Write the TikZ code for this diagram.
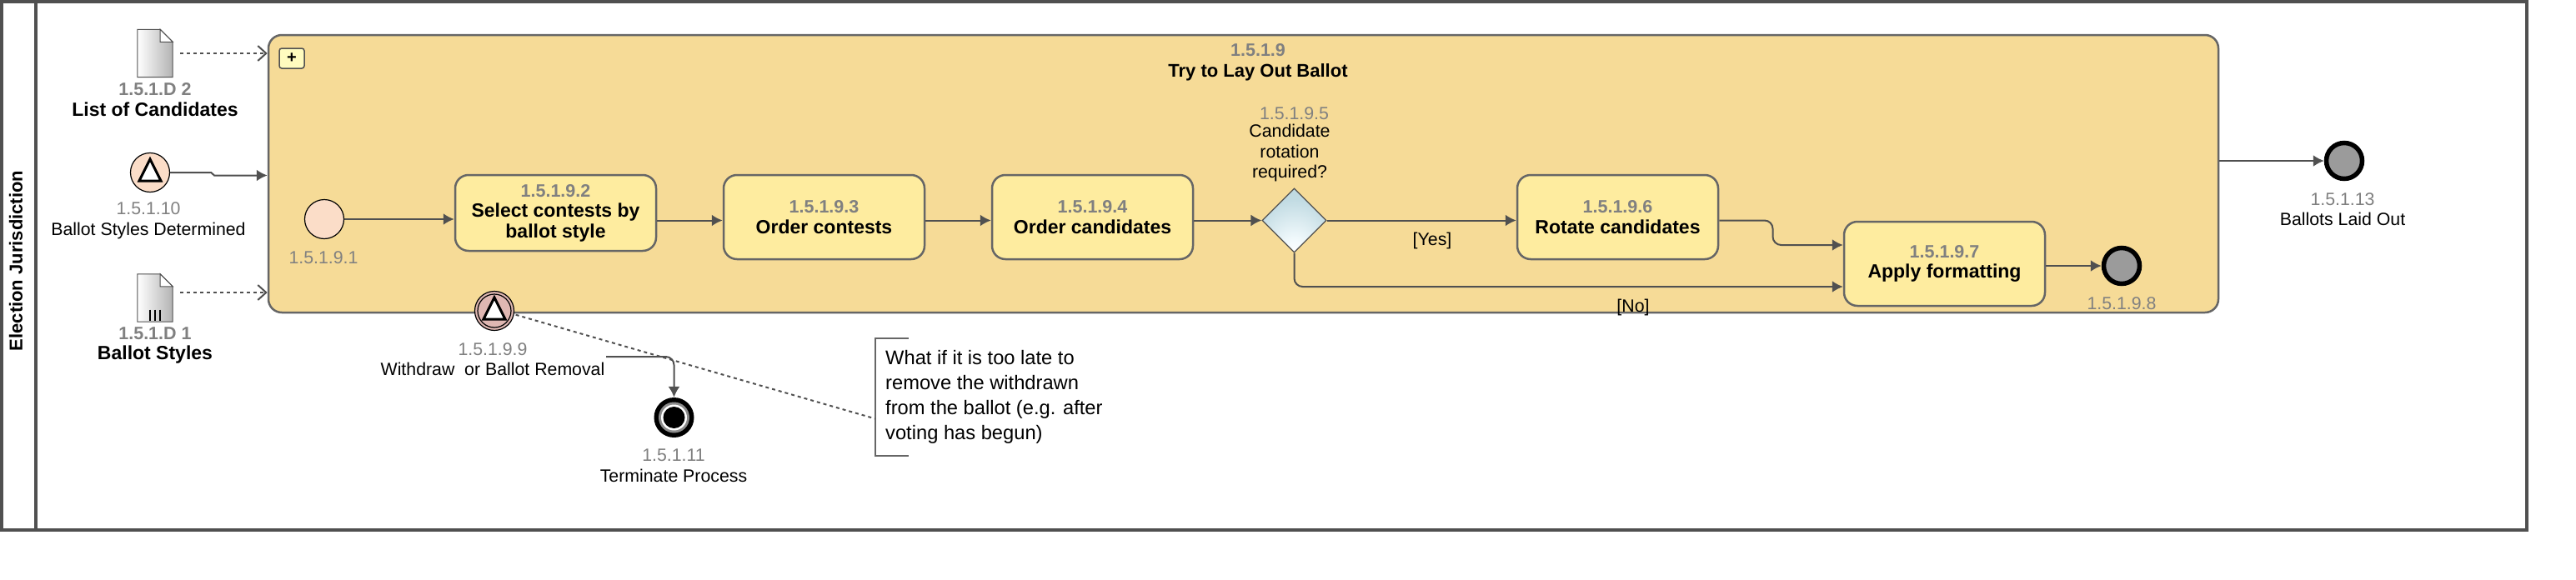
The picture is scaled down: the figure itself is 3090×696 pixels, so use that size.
\documentclass[tikz,border=0pt]{standalone}
\usepackage{fontspec}
\setmainfont{Liberation Sans}
\usetikzlibrary{arrows.meta,shapes.geometric}

\definecolor{idgray}{HTML}{808080}
\definecolor{linegray}{HTML}{505050}
\definecolor{edgegray}{HTML}{666666}
\definecolor{subfill}{HTML}{F6DB97}
\definecolor{taskfill}{HTML}{FEEC9F}
\definecolor{startfill}{HTML}{FBDDC8}
\definecolor{boundfill}{HTML}{DFB7B2}
\definecolor{endfill}{HTML}{9B9B9B}
\pgfdeclareradialshading{gwshade}{\pgfpoint{0bp}{-27bp}}{rgb(0bp)=(1,1,1);rgb(8bp)=(0.95,0.98,0.99);rgb(30bp)=(0.76,0.86,0.89);rgb(60bp)=(0.70,0.82,0.86)}
\newcommand{\idnum}[1]{{\color{idgray}\fontsize{21.5}{24.5}\selectfont #1}}

\tikzset{
    lab/.style={inner sep=0pt,align=center,font=\fontsize{21.3}{24.5}\selectfont},
    boldlab/.style={lab,font=\fontsize{23}{24.5}\selectfont\bfseries},
    task/.style={boldlab,draw=edgegray,line width=2.5pt,fill=taskfill,rounded corners=16pt,minimum width=241pt,minimum height=101pt},
    event/.style={circle,inner sep=0pt,draw=black,line width=1.2pt,minimum size=47pt},
    endevent/.style={circle,inner sep=0pt,draw=black,line width=5.5pt,fill=endfill,minimum size=43pt},
    flow/.style={draw=linegray,line width=2pt,-{Latex[length=13pt,width=14pt]}},
    dataflow/.style={draw=linegray,line width=2pt,dash pattern=on 4pt off 4pt,-{Straight Barb[length=10pt,width=18pt]}},
    docbox/.style={rectangle,inner sep=0pt,minimum width=42pt,minimum height=57pt},
    trimark/.style={draw=black,line width=3pt,fill=white,line join=miter}
}

\begin{document}
\begin{tikzpicture}[x=1pt,y=-1pt]
    \useasboundingbox (0,0) rectangle (3090,696);
    \fill[white] (0,0) rectangle (3090,696);
    \node[draw=linegray,line width=4pt,inner sep=0pt,minimum width=3029pt,minimum height=634pt] (pool) at (1516.5,319) {};
    \coordinate (lanetop) at (43,2);
    \draw[draw=linegray,line width=4pt] (lanetop) -- (lanetop |- pool.south);
    \node[boldlab,rotate=90,font=\fontsize{22}{24.5}\selectfont\bfseries] (lane) at (19,313) {Election Jurisdiction};

    \node[draw=edgegray,line width=2.5pt,fill=subfill,rounded corners=16pt,minimum width=2339pt,minimum height=333pt,inner sep=0pt] (sub) at (1491.5,208.5) {};
    \node[draw=linegray,line width=1.5pt,fill=yellow!25,rounded corners=3pt,minimum width=30pt,minimum height=24pt,inner sep=0pt,font=\fontsize{20}{20}\selectfont\bfseries] (plus) at (350,70) {+};
    \node[boldlab,font=\fontsize{22}{24.5}\selectfont\bfseries] (subtitle) at (1509,75) {\idnum{1.5.1.9}\\Try to Lay Out Ballot};

    % data objects
    \node[docbox] (doc2) at (186,64) {};
    \node[docbox] (doc1) at (186,357.5) {};
    \foreach \doc in {doc2,doc1} {
        \shade[left color=white,right color=black!30,draw=linegray,line width=1pt] (\doc.north west) -- ([xshift=-15]\doc.north east) -- ([yshift=-15]\doc.north east) -- (\doc.south east) -- (\doc.south west) -- cycle;
        \draw[fill=white,draw=linegray,line width=1pt] ([xshift=-15]\doc.north east) -- ([xshift=-15,yshift=-15]\doc.north east) -- ([yshift=-15]\doc.north east) -- cycle;
    }
    \foreach \x in {-6,0,6}
        \draw[black,line width=1.5pt] ([shift={(\x,14)}]doc1.center) -- ([shift={(\x,27)}]doc1.center);
    \node[boldlab] (doc2lab) at (186,119.5) {\idnum{1.5.1.D 2}\\List of Candidates};
    \node[boldlab] (doc1lab) at (186,414.5) {\idnum{1.5.1.D 1}\\Ballot Styles};
    \draw[dataflow,shorten <=9pt] (doc2.east) -- (sub.west |- doc2.east);
    \draw[dataflow,shorten <=9pt] (doc1.east |- 0,351) -- (sub.west |- 0,351);

    % start and boundary events
    \node[event,fill=startfill] (ev10) at (180,207) {};
    \node[lab] (ev10lab) at (178,265) {{\color{idgray}1.5.1.10}\\Ballot Styles Determined};
    \node[event,fill=boundfill] (ev99) at (593,373) {};
    \draw[black,line width=1.2pt] (ev99.center) circle (20);
    \node[lab] (ev99lab) at (591,431) {{\color{idgray}1.5.1.9.9}\\Withdraw\ \ or Ballot Removal};
    \foreach \ev in {ev10,ev99}
        \draw[trimark] ([shift={(0,-16)}]\ev.center) -- ([shift={(-13,10)}]\ev.center) -- ([shift={(13,10)}]\ev.center) -- cycle;
    \draw[flow] (ev10.east) -- ++(49,0) -- ++(4,3.5) -- (sub.west |- 0,210.5);

    % inner sequence
    \coordinate (row) at (0,264.5);
    \node[event,fill=startfill] (ev1) at (389,263) {};
    \node[lab] (ev1lab) at (388,309) {\color{idgray}1.5.1.9.1};
    \node[task,minimum height=91pt] (t2) at (666.5,255.5) {\idnum{1.5.1.9.2}\\Select contests by\\ballot style};
    \node[task] (t3) at (988.5,260.5) {\idnum{1.5.1.9.3}\\Order contests};
    \node[task] (t4) at (1310.5,260.5) {\idnum{1.5.1.9.4}\\Order candidates};
    \node[diamond,shading=gwshade,draw=linegray,line width=1.2pt,inner sep=0pt,minimum width=77pt,minimum height=77pt] (gw) at (1552.5,264.5) {};
    \node[lab] (gwlab) at (1547,183.5) {Candidate\\rotation\\required?};
    \node[lab,text=idgray] (gwid) at (1552.5,136) {1.5.1.9.5};
    \node[task] (t6) at (1940.5,260.5) {\idnum{1.5.1.9.6}\\Rotate candidates};
    \node[task] (t7) at (2332.5,316.5) {\idnum{1.5.1.9.7}\\Apply formatting};
    \node[endevent] (ev8) at (2545,319) {};
    \node[lab,text=idgray] (ev8lab) at (2545,364.5) {1.5.1.9.8};
    \draw[flow] (ev1.east) -- (t2.west |- ev1.east);
    \draw[flow] (t2.east |- row) -- (t3.west |- row);
    \draw[flow] (t3.east |- row) -- (t4.west |- row);
    \draw[flow] (t4.east |- row) -- (gw.west);
    \draw[flow] (gw.east) -- (t6.west |- gw.east);
    \node[lab] (yeslab) at (1718,289) {[Yes]};
    \draw[flow,rounded corners=10pt] (t6.east |- row) -- (2126.5,264.5) -- (2126.5,294) -- (t7.west |- 0,294);
    \draw[flow,rounded corners=10pt] (gw.south) |- (t7.west |- 0,344);
    \node[lab] (nolab) at (1959,368.5) {[No]};
    \draw[flow] (t7.east |- ev8.west) -- (ev8.west);

    % outgoing end event
    \node[endevent] (ev13) at (2812,193) {};
    \node[lab] (ev13lab) at (2810,251) {{\color{idgray}1.5.1.13}\\Ballots Laid Out};
    \draw[flow] (sub.east |- ev13.west) -- (ev13.west);

    % terminate event
    \node[circle,fill=black,inner sep=0pt,minimum size=48pt] (ev11) at (808.5,501) {};
    \fill[black!45] (ev11.center) circle (18.5);
    \fill[white] (ev11.center) circle (15.5);
    \fill[black] (ev11.center) circle (13);
    \node[lab] (ev11lab) at (808,559) {{\color{idgray}1.5.1.11}\\Terminate Process};
    \coordinate (wstart) at (727,428);
    \draw[flow,rounded corners=10pt] (wstart) -| (ev11.north);

    % annotation
    \node[inner sep=0pt,inner xsep=12pt,anchor=west,align=left,minimum height=141pt,font=\fontsize{23.7}{30}\selectfont] (note) at (1050,476.5) {What if it is too late to\\remove the withdrawn\\from the ballot (e.g. after\\voting has begun)};
    \draw[edgegray,line width=1.5pt] ([xshift=40]note.north west) -- (note.north west) -- (note.south west) -- ([xshift=40]note.south west);
    \draw[linegray,line width=2pt,dash pattern=on 4pt off 4pt,shorten <=2pt] (ev99.-10) -- ([yshift=-26]note.west);
\end{tikzpicture}
\end{document}
